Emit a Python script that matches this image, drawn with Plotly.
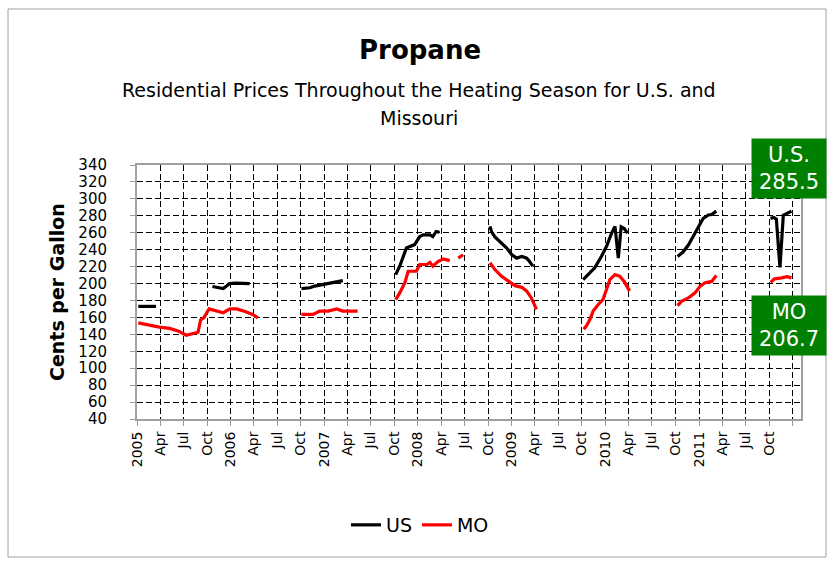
import plotly.graph_objects as go

# ---------------- data ----------------
us_dates = [
    "2005-01-06", "2005-02-10", "2005-03-16", None,
    "2005-10-22", "2005-11-13", "2005-12-03", "2005-12-16", "2005-12-28", "2006-01-20", "2006-02-20", "2006-03-16", None,
    "2006-10-04", "2006-11-06", "2006-11-25", "2006-12-27", "2007-02-05", "2007-03-14", None,
    "2007-10-06", "2007-10-22", "2007-11-17", "2007-12-04", "2007-12-19", "2008-01-08", "2008-01-21", "2008-02-17",
    "2008-02-28", "2008-03-12", "2008-03-25", None,
    "2008-10-08", "2008-10-14", "2008-10-27", "2008-11-16", "2008-12-12", "2009-01-01", "2009-01-20", "2009-02-09",
    "2009-02-28", "2009-03-11", "2009-03-24", None,
    "2009-10-06", "2009-10-25", "2009-11-20", "2009-12-16", "2010-01-05", "2010-01-25", "2010-02-07", "2010-02-20",
    "2010-03-03", "2010-03-15", "2010-03-28", None,
    "2010-10-09", "2010-10-31", "2010-11-20", "2010-12-09", "2010-12-28", "2011-01-17", "2011-02-06", "2011-02-19",
    "2011-03-09", None,
    "2011-10-06", "2011-10-19", "2011-10-29", "2011-11-12", "2011-11-25", "2011-12-10", "2011-12-27",
]
us_values = [
    173, 173, 173, None,
    196.5, 195, 194, 197, 200, 200.5, 200.5, 200, None,
    194, 195, 197, 199, 201, 203.5, None,
    210.5, 220.5, 242, 244.5, 246, 255.5, 257.5, 257.5, 255.5, 261.5, 260.5, None,
    267.5, 261, 255, 249, 242, 234, 230, 232, 230, 226, 220.5, None,
    204.5, 210.5, 218.5, 232, 244, 259.5, 267.5, 230, 267, 265, 259.5, None,
    232, 237.5, 245.5, 255.5, 266, 277, 281, 281.5, 285.5, None,
    277, 278, 276, 219, 280.5, 283, 285.5,
]

mo_dates = [
    "2005-01-06", "2005-02-20", "2005-03-29", "2005-05-08", "2005-06-10", "2005-07-12", "2005-08-14", "2005-08-27",
    "2005-09-06", "2005-09-18", "2005-10-09", "2005-11-07", "2005-12-03", "2005-12-29", "2006-01-24", "2006-02-26",
    "2006-03-28", "2006-04-17", None,
    "2006-10-04", "2006-11-18", "2006-12-14", "2007-01-16", "2007-02-18", "2007-03-14", "2007-05-11", None,
    "2007-10-06", "2007-10-22", "2007-11-11", "2007-11-24", "2007-12-26", "2008-01-08", "2008-02-04", "2008-02-17",
    "2008-02-28", "2008-03-19", "2008-04-08", "2008-05-04", None,
    "2008-06-06", "2008-06-25", None,
    "2008-10-08", "2008-10-27", "2008-11-22", "2008-12-18", "2009-01-13", "2009-02-09", "2009-02-28", "2009-03-18",
    "2009-03-31", "2009-04-07", None,
    "2009-10-08", "2009-10-19", "2009-11-01", "2009-11-14", "2009-12-03", "2009-12-22", "2010-01-05", "2010-01-18",
    "2010-02-07", "2010-02-26", "2010-03-15", "2010-04-05", None,
    "2010-10-09", "2010-10-24", "2010-11-20", "2010-12-16", "2011-01-05", "2011-01-24", "2011-02-19", "2011-03-09", None,
    "2011-10-07", "2011-10-22", "2011-11-18", "2011-12-10", "2011-12-27",
]
mo_values = [
    153.5, 150.5, 148.5, 147, 144, 139, 141, 142.5, 157, 159.5, 170, 167.5, 165.5, 170, 170, 167, 163.5, 159.5, None,
    163.5, 163.5, 167.5, 167.5, 170, 167.5, 167.5, None,
    181, 189, 201, 214.5, 214.5, 222.5, 222.5, 225, 220.5, 226, 229, 227, None,
    230, 234, None,
    224.5, 216.5, 208.5, 202.5, 197.5, 195.5, 191, 183, 175, 169.5, None,
    146, 150, 157.5, 167.5, 175, 181, 193, 204.5, 210.5, 208.5, 202.5, 191, None,
    174, 179, 183, 189, 197, 201, 202.5, 209.5, None,
    201.5, 205.5, 206.7, 208, 206.7,
]

tick_dates = [f"{y}-{m:02d}-01" for y in range(2005, 2012) for m in (1, 4, 7, 10)] + ["2012-01-01"]
tick_labels = []
for y in range(2005, 2012):
    tick_labels += [str(y), "Apr", "Jul", "Oct"]
tick_labels += [""]

y_ticks = list(range(40, 341, 20))

title_text = "Propane"
subtitle_lines = ["Residential Prices Throughout the Heating Season for U.S. and", "Missouri"]
y_title = "Cents per Gallon"
callouts = [("U.S.", "285.5"), ("MO", "206.7")]

# ---------------- figure ----------------
FONT = "DejaVu Sans, Liberation Sans, sans-serif"
W, H = 833, 561
L, R, T, B = 137, 801, 165, 419


def px_x(px):
    return (px - L) / (R - L)


def px_y(py):
    return (B - py) / (B - T)


fig = go.Figure()
fig.add_trace(go.Scatter(x=us_dates, y=us_values, mode="lines", name="US",
                         line=dict(color="#000000", width=3.2), connectgaps=False))
fig.add_trace(go.Scatter(x=mo_dates, y=mo_values, mode="lines", name="MO",
                         line=dict(color="#FF0000", width=3.2), connectgaps=False))

fig.update_layout(
    width=W, height=H,
    margin=dict(l=L, r=W - R, t=T, b=H - B, autoexpand=False),
    paper_bgcolor="white", plot_bgcolor="white",
    font=dict(family=FONT, color="black"),
    showlegend=True,
    legend=dict(orientation="h", x=px_x(420), xanchor="center", y=px_y(525), yanchor="middle",
                font=dict(size=19, family=FONT), tracegroupgap=0),
)

fig.update_xaxes(
    type="date", range=["2005-01-01", "2012-02-02"], automargin=False,
    tickmode="array", tickvals=tick_dates, ticktext=tick_labels, tickangle=-90,
    tickfont=dict(size=14, family=FONT, color="black"),
    ticks="outside", ticklen=5, tickcolor="#999999",
    showgrid=True, gridcolor="black", gridwidth=1, griddash="6px,3px",
    showline=True, linecolor="#A0A0A0", linewidth=2, mirror=True, zeroline=False,
)
fig.update_yaxes(
    range=[40, 340], tickmode="array", tickvals=y_ticks, automargin=False,
    tickfont=dict(size=15, family=FONT, color="black"),
    ticks="outside", ticklen=5, tickcolor="#999999", ticklabelstandoff=20,
    showgrid=True, gridcolor="black", gridwidth=1, griddash="6px,3px",
    showline=True, linecolor="#A0A0A0", linewidth=2, mirror=True, zeroline=False,
)

# y-axis title
fig.add_annotation(text=f"<b>{y_title}</b>", xref="paper", yref="paper",
                   x=px_x(57), y=px_y(292), xanchor="center", yanchor="middle", textangle=-90,
                   showarrow=False, font=dict(size=19, family=FONT))

# title and subtitle
fig.add_annotation(text=f"<b>{title_text}</b>", xref="paper", yref="paper",
                   x=px_x(420), y=px_y(50), xanchor="center", yanchor="middle",
                   showarrow=False, font=dict(size=26, family=FONT))
for i, line in enumerate(subtitle_lines):
    fig.add_annotation(text=line, xref="paper", yref="paper",
                       x=px_x(419), y=px_y(90 + 28 * i), xanchor="center", yanchor="middle",
                       showarrow=False, font=dict(size=19, family=FONT))

# green callouts
for (lab, val), cy in zip(callouts, (168, 325)):
    fig.add_annotation(text=f"{lab}<br>{val}", xref="paper", yref="paper",
                       x=px_x(789), y=px_y(cy), xanchor="center", yanchor="middle",
                       showarrow=False, bgcolor="#008000", width=72, height=57, borderpad=1,
                       font=dict(size=21, family=FONT, color="white"))

# outer chart frame
fig.add_shape(type="rect", xref="paper", yref="paper",
              x0=px_x(8), x1=px_x(826), y0=px_y(557), y1=px_y(9),
              line=dict(color="#A0A0A0", width=1), fillcolor="rgba(0,0,0,0)", layer="below")

fig.write_html("out.html", config={"displayModeBar": False},
               post_script="document.body.style.margin='0px';")
